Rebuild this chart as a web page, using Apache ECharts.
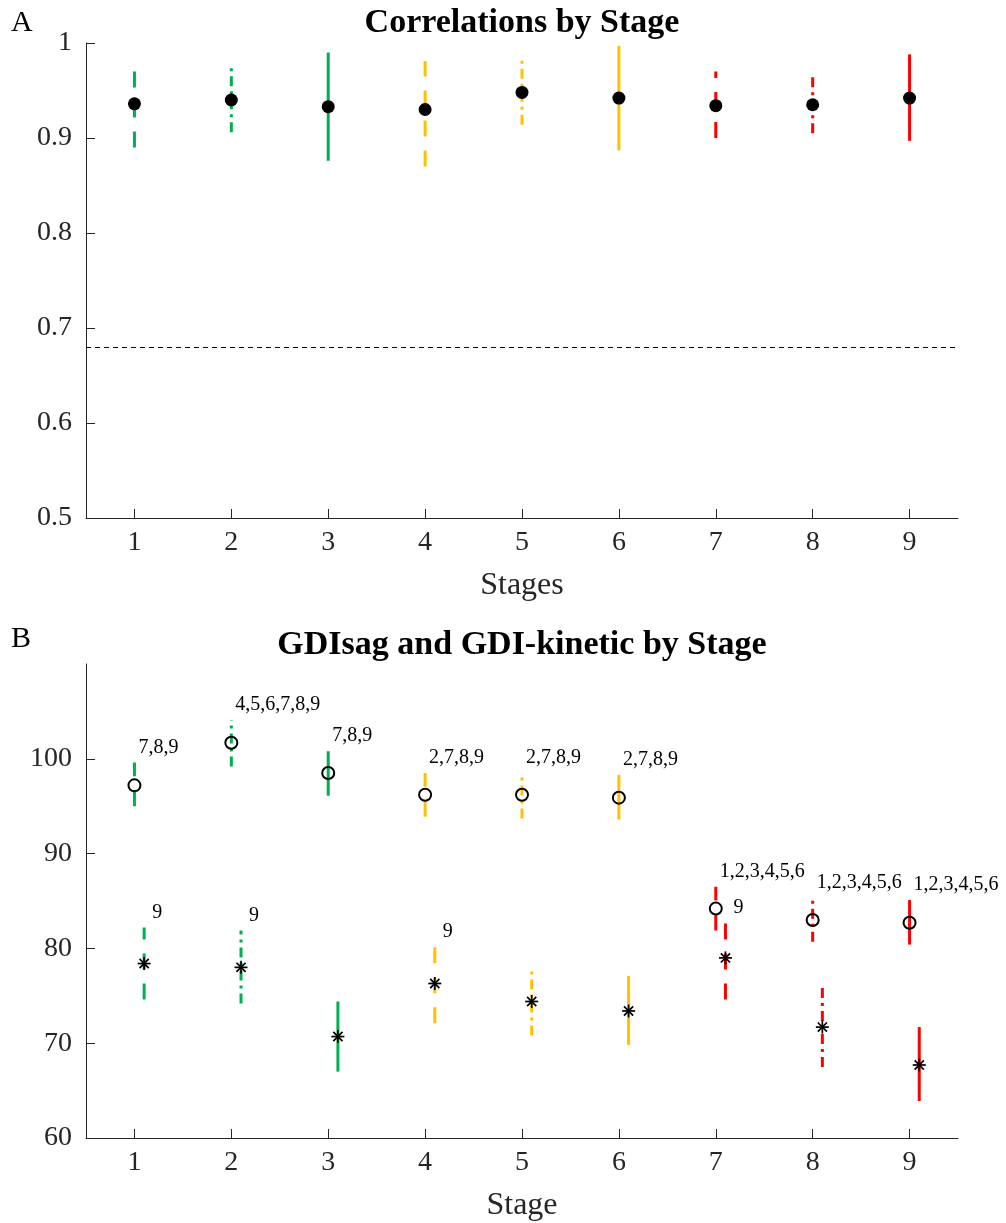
<!DOCTYPE html>
<html>
<head>
<meta charset="utf-8">
<script src="https://cdn.jsdelivr.net/npm/echarts@6/dist/echarts.min.js"></script>
<style>
  html, body { margin: 0; padding: 0; background: #fff; }
  #chart { width: 1006px; height: 1223px; }
</style>
</head>
<body>
<div id="chart"></div>
<script>
// ---- data ----
const stages = [1, 2, 3, 4, 5, 6, 7, 8, 9];

// Panel A: correlation per stage (mean with lower / upper bound)
const corrMean = [0.936, 0.940, 0.933, 0.930, 0.948, 0.942, 0.934, 0.935, 0.942];
const corrLow  = [0.890, 0.906, 0.876, 0.870, 0.914, 0.887, 0.900, 0.905, 0.897];
const corrHigh = [0.972, 0.974, 0.990, 0.981, 0.983, 0.997, 0.970, 0.965, 0.988];
const corrThreshold = 0.68;
const corrTicks = [0.5, 0.6, 0.7, 0.8, 0.9, 1];

// Panel B: GDIsag (circles)
const sagMean = [97.2, 101.7, 98.5, 96.2, 96.2, 95.9, 84.2, 83.0, 82.7];
const sagLow  = [95.0, 99.2, 96.1, 93.9, 93.7, 93.6, 81.9, 80.7, 80.4];
const sagHigh = [99.6, 104.1, 100.8, 98.5, 98.5, 98.3, 86.5, 85.3, 85.1];
const sagSig  = ['7,8,9', '4,5,6,7,8,9', '7,8,9', '2,7,8,9', '2,7,8,9', '2,7,8,9',
                 '1,2,3,4,5,6', '1,2,3,4,5,6', '1,2,3,4,5,6'];

// Panel B: GDI-kinetic (asterisks)
const kinMean = [78.4, 78.0, 70.7, 76.3, 74.4, 73.4, 79.0, 71.7, 67.7];
const kinLow  = [74.6, 74.2, 67.0, 72.1, 70.8, 69.8, 74.6, 67.5, 63.9];
const kinHigh = [82.2, 81.9, 74.4, 80.2, 78.1, 77.1, 82.7, 76.3, 71.7];
const kinSig  = ['9', '9', '', '9', '', '', '9', '', '1,2,4,7'];
const gdiTicks = [60, 70, 80, 90, 100];

// ---- styling helpers ----
const FONT = '"Liberation Serif", "Times New Roman", serif';
const AXIS = '#262626';
const groupColors = ['#00B050', '#FFC000', '#FF0000'];
const dashStyles = [[16, 14], [10, 5, 3, 5], null];   // dashed, dash-dot, solid
const colorOf = s => groupColors[Math.floor((s - 1) / 3)];
const dashOf = s => dashStyles[(s - 1) % 3];
const KIN_SHIFT = 0.1;   // kinetic marks sit slightly right of each stage

const zip = (...cols) => cols[0].map((_, i) => cols.map(c => c[i]));

function errorBar(shift) {
  return function (params, api) {
    const s = api.value(0);
    const lo = api.coord([s + shift, api.value(1)]);
    const hi = api.coord([s + shift, api.value(2)]);
    const dash = dashOf(s);
    return {
      type: 'line',
      shape: { x1: lo[0], y1: lo[1], x2: hi[0], y2: hi[1] },
      style: { stroke: colorOf(s), lineWidth: 3, lineDash: dash || null, lineCap: 'butt' }
    };
  };
}

function asterisk(params, api) {
  const c = api.coord([api.value(0) + KIN_SHIFT, api.value(1)]);
  const r = 6.5, d = r * 0.7071;
  const seg = (x1, y1, x2, y2) => ({
    type: 'line',
    shape: { x1: c[0] + x1, y1: c[1] + y1, x2: c[0] + x2, y2: c[1] + y2 },
    style: { stroke: '#000', lineWidth: 1.7 }
  });
  return {
    type: 'group',
    children: [seg(-r, 0, r, 0), seg(0, -r, 0, r), seg(-d, -d, d, d), seg(-d, d, d, -d)]
  };
}

function sigLabel(shift, dx) {
  return function (params, api) {
    const text = api.value(2);
    if (!text) return null;
    const p = api.coord([api.value(0) + shift, api.value(1)]);
    return {
      type: 'text',
      x: p[0] + dx,
      y: p[1] - 15,
      style: {
        text: String(text), fill: '#000', font: '20px ' + FONT,
        textAlign: 'left', textVerticalAlign: 'middle'
      }
    };
  };
}

function xAxisCfg(grid, name) {
  return {
    type: 'value', gridIndex: grid, min: 0.5, max: 9.5,
    axisLine: { show: true, onZero: false, lineStyle: { color: AXIS, width: 1 } },
    axisTick: { show: true, inside: true, length: 9, customValues: stages, lineStyle: { color: AXIS } },
    axisLabel: { customValues: stages, fontSize: 28, fontFamily: FONT, color: AXIS, margin: 11 },
    splitLine: { show: false },
    name: name, nameLocation: 'middle', nameGap: 52,
    nameTextStyle: { fontSize: 32, fontFamily: FONT, color: AXIS }
  };
}

function yAxisCfg(grid, min, max, ticks) {
  return {
    type: 'value', gridIndex: grid, min: min, max: max,
    axisLine: { show: true, lineStyle: { color: AXIS, width: 1 } },
    axisTick: { show: true, inside: true, length: 9, customValues: ticks, lineStyle: { color: AXIS } },
    axisLabel: { customValues: ticks, fontSize: 28, fontFamily: FONT, color: AXIS, margin: 14,
                 formatter: v => String(Math.round(v * 100) / 100) },
    splitLine: { show: false }
  };
}

const chart = echarts.init(document.getElementById('chart'), null, { renderer: 'canvas' });

chart.setOption({
  backgroundColor: '#fff',
  animation: false,
  grid: [
    { left: 86, top: 43, width: 872, height: 475, outerBoundsMode: 'none', containLabel: false },
    { left: 86, top: 664, width: 872, height: 474, outerBoundsMode: 'none', containLabel: false }
  ],
  xAxis: [xAxisCfg(0, 'Stages'), xAxisCfg(1, 'Stage')],
  yAxis: [yAxisCfg(0, 0.5, 1, corrTicks), yAxisCfg(1, 60, 110, gdiTicks)],
  graphic: [
    { type: 'text', x: 11, y: 23, style: { text: 'A', font: '30px ' + FONT, fill: '#000', textVerticalAlign: 'middle' } },
    { type: 'text', x: 522, y: 23, style: { text: 'Correlations by Stage', font: 'bold 34px ' + FONT, fill: '#000', textAlign: 'center', textVerticalAlign: 'middle' } },
    { type: 'text', x: 11, y: 639, style: { text: 'B', font: '30px ' + FONT, fill: '#000', textVerticalAlign: 'middle' } },
    { type: 'text', x: 522, y: 645, style: { text: 'GDIsag and GDI-kinetic by Stage', font: 'bold 34px ' + FONT, fill: '#000', textAlign: 'center', textVerticalAlign: 'middle' } }
  ],
  series: [
    // Panel A
    {
      type: 'custom', xAxisIndex: 0, yAxisIndex: 0,
      renderItem: errorBar(0), data: zip(stages, corrLow, corrHigh), z: 2
    },
    {
      type: 'scatter', xAxisIndex: 0, yAxisIndex: 0,
      data: zip(stages, corrMean), symbol: 'circle', symbolSize: 13,
      itemStyle: { color: '#000', opacity: 1 }, z: 3,
      markLine: {
        silent: true, symbol: ['none', 'none'], label: { show: false },
        lineStyle: { color: '#000', width: 1, type: [5, 4] },
        data: [{ yAxis: corrThreshold }]
      }
    },
    // Panel B: GDIsag
    {
      type: 'custom', xAxisIndex: 1, yAxisIndex: 1,
      renderItem: errorBar(0), data: zip(stages, sagLow, sagHigh), z: 2
    },
    {
      type: 'scatter', xAxisIndex: 1, yAxisIndex: 1,
      data: zip(stages, sagMean), symbol: 'circle', symbolSize: 12,
      itemStyle: { color: 'rgba(0,0,0,0)', borderColor: '#000', borderWidth: 2, opacity: 1 }, z: 3
    },
    {
      type: 'custom', xAxisIndex: 1, yAxisIndex: 1,
      renderItem: sigLabel(0, 4), data: zip(stages, sagHigh, sagSig), z: 4
    },
    // Panel B: GDI-kinetic
    {
      type: 'custom', xAxisIndex: 1, yAxisIndex: 1,
      renderItem: errorBar(KIN_SHIFT), data: zip(stages, kinLow, kinHigh), z: 2
    },
    {
      type: 'custom', xAxisIndex: 1, yAxisIndex: 1,
      renderItem: asterisk, data: zip(stages, kinMean), z: 3
    },
    {
      type: 'custom', xAxisIndex: 1, yAxisIndex: 1,
      renderItem: sigLabel(KIN_SHIFT, 8), data: zip(stages, kinHigh, kinSig), z: 4
    }
  ]
});
</script>
</body>
</html>
